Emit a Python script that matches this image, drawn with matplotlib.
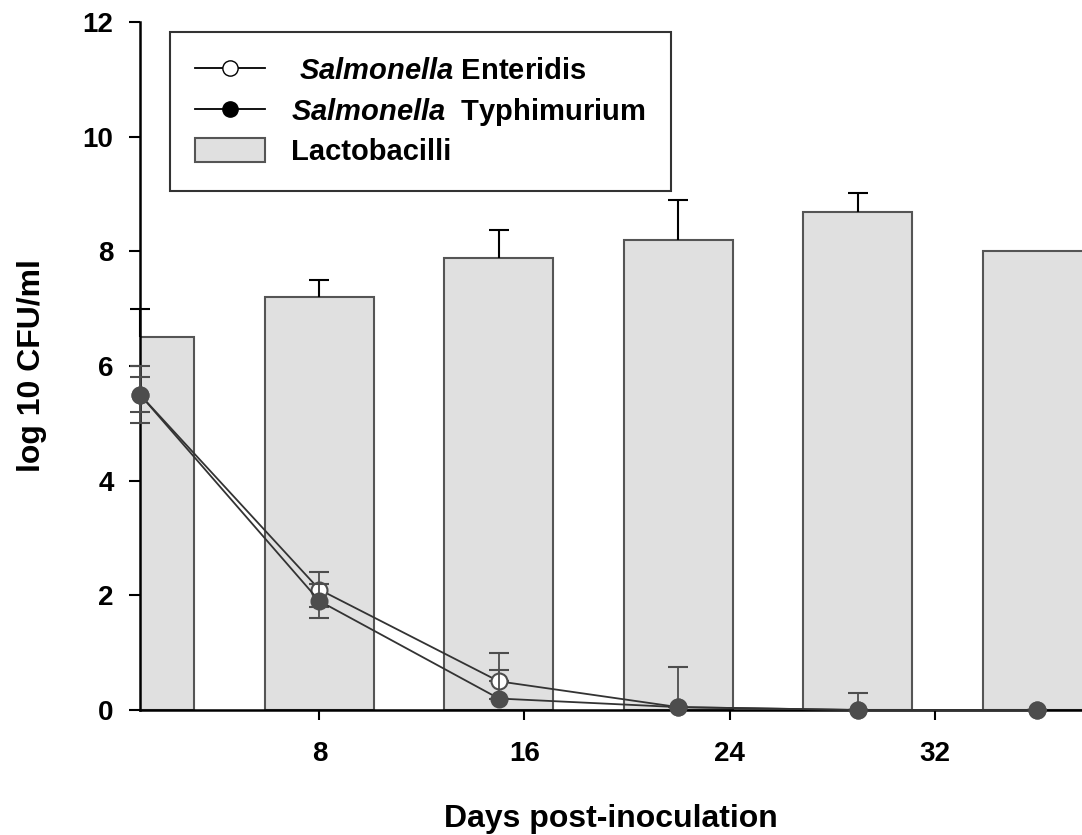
import numpy as np
import matplotlib.pyplot as plt
from matplotlib.lines import Line2D
from matplotlib.patches import Patch

plt.rcParams['font.family'] = ['Liberation Sans', 'DejaVu Sans']
plt.rcParams['font.weight'] = 'bold'
plt.rcParams['mathtext.fontset'] = 'custom'
plt.rcParams['mathtext.it'] = 'Liberation Sans:italic:bold'
plt.rcParams['mathtext.rm'] = 'Liberation Sans:bold'

# data
days = [1, 8, 15, 22, 29, 36]
lacto = [6.5, 7.2, 7.88, 8.2, 8.68, 8.0]
lacto_err = [0.5, 0.3, 0.5, 0.7, 0.33, np.nan]
enteritidis = [5.5, 2.1, 0.5, 0.05, 0.0, 0.0]
ent_lo = [0.5, 0.3, 0.0, 0.0, 0.0, 0.0]
ent_hi = [0.5, 0.3, 0.5, 0.7, 0.3, 0.0]
typhimurium = [5.5, 1.9, 0.2, 0.05, 0.0, 0.0]
typ_lo = [0.3, 0.3, 0.0, 0.0, 0.0, 0.0]
typ_hi = [0.3, 0.3, 0.5, 0.0, 0.0, 0.0]

xticks = [8, 16, 24, 32]
yticks = [0, 2, 4, 6, 8, 10, 12]

fig = plt.figure(figsize=(10.82, 8.35), dpi=100)
ax = fig.add_axes([0.1294, 0.1497, 0.8706, 0.824])

grey = '#4d4d4d'

# bars (lactobacilli), upper error bars only
ax.bar(days, lacto, width=4.25, color='#e0e0e0', edgecolor='#555555', linewidth=1.5, zorder=1)
lerr = np.array(lacto_err)
ok = ~np.isnan(lerr)
bx = np.array(days)[ok]
by = np.array(lacto)[ok]
bars_eb = ax.errorbar(bx, by, yerr=[np.zeros(ok.sum()), lerr[ok]], fmt='none',
                      ecolor='black', elinewidth=1.5, capsize=7, capthick=1.5, zorder=2)
bars_eb.lines[1][0].set_visible(False)  # no cap at the bar top
for art in bars_eb.lines[1] + bars_eb.lines[2]:
    art.set_clip_on(False)

# salmonella lines
e1 = ax.errorbar(days, enteritidis, yerr=[ent_lo, ent_hi], fmt='-o', color='#333333', mfc='white',
                 mec=grey, ms=11.5, mew=1.5, lw=1.3, ecolor=grey, elinewidth=1.3, capsize=7,
                 capthick=1.3, zorder=3)
e2 = ax.errorbar(days, typhimurium, yerr=[typ_lo, typ_hi], fmt='-o', color='#333333', mfc=grey,
                 mec=grey, ms=11.5, mew=1.5, lw=1.3, ecolor=grey, elinewidth=1.3, capsize=7,
                 capthick=1.3, zorder=4)
for e in (e1, e2):
    e.lines[0].set_clip_on(False)
    for art in e.lines[1] + e.lines[2]:
        art.set_clip_on(False)

ax.set_xlim(1, 37.75)
ax.set_ylim(0, 12)
ax.set_xticks(xticks)
ax.set_yticks(yticks)
ax.spines['top'].set_visible(False)
ax.spines['right'].set_visible(False)
for s in ('left', 'bottom'):
    ax.spines[s].set_linewidth(1.8)
ax.tick_params(axis='x', direction='out', length=7, width=1.5, pad=15, labelsize=20)
ax.tick_params(axis='y', direction='out', length=8, width=1.5, pad=11, labelsize=20)
for lab in ax.get_xticklabels() + ax.get_yticklabels():
    lab.set_fontweight('bold')

ax.set_xlabel('Days post-inoculation', fontsize=23, fontweight='bold', labelpad=27)
ax.set_ylabel('log 10 CFU/ml', fontsize=23, fontweight='bold', labelpad=26)

handles = [
    Line2D([], [], color='black', lw=1.3, marker='o', mfc='white', mec='black', ms=11),
    Line2D([], [], color='black', lw=1.3, marker='o', mfc='black', mec='black', ms=11),
    Patch(facecolor='#e0e0e0', edgecolor='#555555', linewidth=1.5),
]
labels = [r' $\it{Salmonella}$ Enteridis', r'$\it{Salmonella}$  Typhimurium', 'Lactobacilli']
leg = ax.legend(handles, labels, loc='upper left', bbox_to_anchor=(0.032, 0.985),
                fontsize=21, frameon=True, fancybox=False, edgecolor='black',
                handlelength=2.4, handleheight=0.9, labelspacing=0.36, borderpad=0.85,
                handletextpad=0.9, borderaxespad=0)
leg.get_frame().set_linewidth(1.5)
for t in leg.get_texts():
    t.set_fontweight('bold')

fig.savefig('out.png', dpi=100)
